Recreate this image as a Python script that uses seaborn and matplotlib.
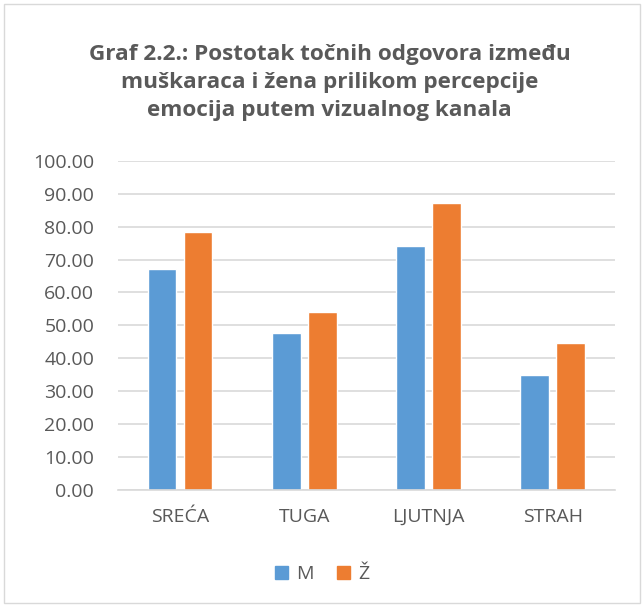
import numpy as np
import pandas as pd
import matplotlib.pyplot as plt
import matplotlib.patches as mpatches
import seaborn as sns

# Data
categories = ['SREĆA', 'TUGA', 'LJUTNJA', 'STRAH']
muski = [67.1, 47.8, 74.0, 34.8]
zene = [78.4, 54.2, 87.1, 44.6]
series = ['M', 'Ž']
yticks = np.arange(0, 101, 10)

df = pd.DataFrame({
    'kategorija': categories * 2,
    'spol': ['M'] * len(categories) + ['Ž'] * len(categories),
    'postotak': muski + zene,
})

sns.set_style('white')
plt.rcParams['font.family'] = ['Open Sans', 'DejaVu Sans']

text_col = '#595959'
grid_col = '#d9d9d9'
pal = {'M': '#5B9BD5', 'Ž': '#ED7D31'}

fig = plt.figure(figsize=(6.44, 6.07), dpi=100)
ax = fig.add_axes([0.183, 0.193, 0.772, 0.542])

sns.barplot(data=df, x='kategorija', y='postotak', hue='spol', order=categories,
            hue_order=series, palette=pal, width=0.58, gap=0.2, ax=ax,
            saturation=1, legend=False, errorbar=None)

ax.set_ylim(0, 100)
ax.set_xlim(-0.5, 3.5)
ax.set_yticks(yticks)
ax.set_yticklabels([f'{v:.2f}' for v in yticks])
ax.yaxis.grid(True, color=grid_col, linewidth=1.2)
ax.set_axisbelow(True)
for s in ['top', 'right', 'left']:
    ax.spines[s].set_visible(False)
ax.spines['bottom'].set_color(grid_col)
ax.spines['bottom'].set_linewidth(1.2)
ax.tick_params(axis='both', length=0, labelsize=14, labelcolor=text_col)
ax.tick_params(axis='x', pad=13)
ax.tick_params(axis='y', pad=17)
ax.set_xlabel('')
ax.set_ylabel('')

fig.text(0.512, 0.864,
         'Graf 2.2.: Postotak točnih odgovora između\nmuškaraca i žena prilikom percepcije\nemocija putem vizualnog kanala',
         ha='center', va='center', fontsize=16.2, fontweight='bold', color=text_col,
         linespacing=1.45)

handles = [mpatches.Patch(color=pal[s]) for s in series]
fig.legend(handles, series, loc='center', bbox_to_anchor=(0.5, 0.054), ncol=2,
           frameon=False, fontsize=14, labelcolor=text_col, handlelength=0.7,
           handleheight=0.7, handletextpad=0.4, columnspacing=1.2)

fig.patches.append(mpatches.Rectangle((0.006, 0.006), 0.988, 0.988, transform=fig.transFigure,
                                      fill=False, edgecolor=grid_col, linewidth=1))

fig.savefig('out.png', dpi=100)
